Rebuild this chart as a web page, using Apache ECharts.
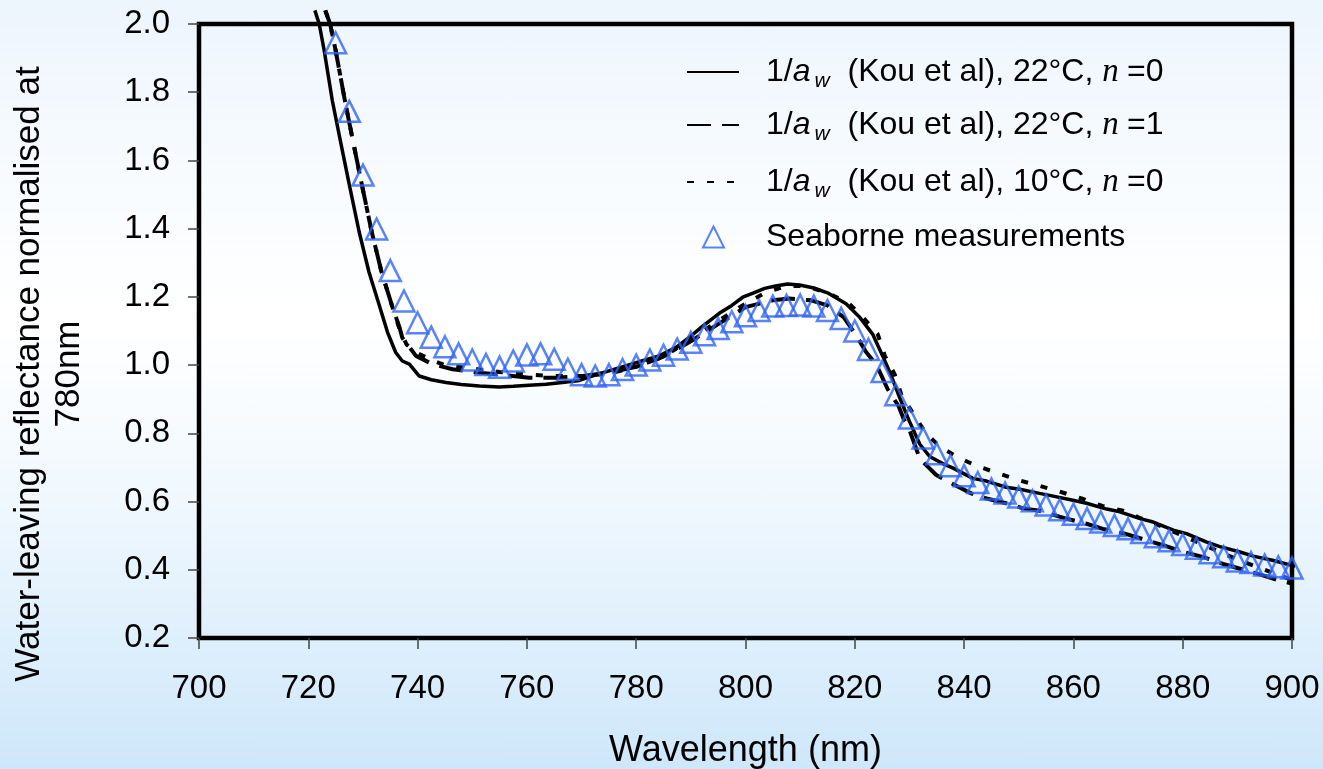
<!DOCTYPE html>
<html><head><meta charset="utf-8">
<script src="https://cdn.jsdelivr.net/npm/echarts@6/dist/echarts.min.js"></script>
<style>
html,body{margin:0;padding:0;}
#c{width:1323px;height:769px;background:linear-gradient(to bottom,#EDF5FD 0%,#F7FBFE 22%,#FFFFFF 42%,#F0F8FE 65%,#CEE7FA 100%);}
</style>
</head><body><div id="c"></div>
<script>
// ---- data ----
const xTicks = [700, 720, 740, 760, 780, 800, 820, 840, 860, 880, 900];
const yTicks = [0.2, 0.4, 0.6, 0.8, 1.0, 1.2, 1.4, 1.6, 1.8, 2.0];

const kou22n0Wl = [721.2,722.0,722.9,724.4,726.0,727.5,729.3,731.1,733.0,734.5,736.0,737.2,738.5,740.3,742.5,745.2,748.0,751.3,754.9,757.5,760.4,763.5,766.5,769.6,773.3,778.2,781.0,784.2,787.3,790.0,792.0,795.2,797.5,799.5,801.5,803.5,805.5,807.7,809.9,812.5,815.0,818.4,820.9,823.3,825.1,826.7,828.2,830.0,831.9,833.7,836.0,838.0,841.6,844.1,847.7,850.2,853.8,856.3,859.9,862.4,866.1,868.5,872.2,874.6,878.3,880.7,884.4,886.8,890.5,892.9,896.6,899.0,901.8];
const kou22n0Val = [2.04,2.0,1.923,1.775,1.647,1.529,1.391,1.273,1.175,1.096,1.037,1.012,1.003,0.968,0.957,0.949,0.943,0.939,0.936,0.938,0.941,0.944,0.949,0.955,0.975,0.998,1.012,1.027,1.052,1.085,1.112,1.152,1.175,1.199,1.212,1.225,1.232,1.238,1.235,1.226,1.212,1.180,1.140,1.090,1.027,0.968,0.905,0.835,0.768,0.732,0.712,0.698,0.668,0.660,0.642,0.636,0.624,0.616,0.604,0.595,0.578,0.570,0.550,0.540,0.516,0.506,0.481,0.468,0.452,0.440,0.427,0.417,0.407];

const kou22n1Wl = [723.1,724.0,725.0,726.7,728.3,729.8,731.6,733.4,735.3,736.7,737.2,739.7,742.7,746.4,751.3,757.4,760.4,765.3,769.6,775.0,780.0,785.0,790.0,795.0,800.0,805.0,808.0,812.0,815.0,818.0,820.3,822.0,824.0,826.0,828.0,829.0,830.0,831.9,834.9,837.6,841.3,844.1,847.7,850.8,853.8,858.7,862.4,865.4,869.4,872.5,876.4,880.1,883.8,887.4,890.5,894.8,897.8,901.8];
const kou22n1Val = [2.04,2.0,1.923,1.775,1.647,1.529,1.391,1.273,1.175,1.110,1.080,1.027,1.003,0.988,0.978,0.968,0.963,0.963,0.967,0.978,0.995,1.025,1.070,1.120,1.170,1.190,1.195,1.190,1.175,1.140,1.086,1.040,1.000,0.930,0.880,0.840,0.810,0.725,0.678,0.654,0.624,0.609,0.595,0.580,0.573,0.550,0.535,0.520,0.506,0.491,0.472,0.452,0.437,0.417,0.403,0.383,0.368,0.353];

const kou10n0Wl = [723.1,724.0,725.0,726.7,728.3,729.8,731.6,733.4,735.3,736.8,738.0,740.0,742.5,745.0,750.0,755.0,760.0,765.0,770.0,775.0,780.0,785.0,790.0,795.0,800.0,803.6,807.5,811.0,815.4,819.0,821.5,824.2,825.5,827.3,828.5,830.6,833.0,835.5,838.6,842.2,846.2,849.9,853.8,857.5,861.5,865.3,869.1,872.0,875.0,880.0,885.0,890.0,895.0,900.0,902.0];
const kou10n0Val = [2.04,2.0,1.923,1.775,1.647,1.529,1.391,1.273,1.175,1.100,1.060,1.035,1.015,1.000,0.990,0.980,0.972,0.968,0.968,0.975,0.995,1.025,1.075,1.130,1.180,1.212,1.232,1.232,1.209,1.180,1.140,1.091,1.027,0.973,0.914,0.860,0.800,0.762,0.732,0.705,0.683,0.663,0.646,0.629,0.609,0.587,0.573,0.553,0.535,0.500,0.465,0.430,0.400,0.370,0.360];

const seaWl = [725,727.5,730,732.5,735,737.5,740,742.5,745,747.5,750,752.5,755,757.5,760,762.5,765,767.5,770,772.5,775,777.5,780,782.5,785,787.5,790,792.5,795,797.5,800,802.5,805,807.5,810,812.5,815,817.5,820,822.5,825,827.5,830,832.5,835,837.5,840,842.5,845,847.5,850,852.5,855,857.5,860,862.5,865,867.5,870,872.5,875,877.5,880,882.5,885,887.5,890,892.5,895,897.5,900];
const seaVal = [1.945,1.744,1.557,1.399,1.277,1.188,1.124,1.082,1.054,1.033,1.015,1.002,0.994,1.012,1.030,1.033,1.017,0.988,0.972,0.968,0.972,0.987,1.000,1.015,1.029,1.047,1.067,1.089,1.107,1.127,1.145,1.160,1.173,1.175,1.176,1.173,1.160,1.137,1.100,1.046,0.981,0.913,0.845,0.786,0.740,0.705,0.676,0.656,0.637,0.625,0.613,0.602,0.590,0.576,0.563,0.550,0.540,0.530,0.520,0.509,0.497,0.485,0.474,0.463,0.450,0.438,0.426,0.421,0.414,0.409,0.405];

const seriesNames = ['1/aw (Kou et al), 22°C, n=0', '1/aw (Kou et al), 22°C, n=1', '1/aw (Kou et al), 10°C, n=0', 'Seaborne measurements'];
const legendLabels = {
  '1/aw (Kou et al), 22°C, n=0': '1/{i|a}{s|w} (Kou et al), 22°C, {n|n }=0',
  '1/aw (Kou et al), 22°C, n=1': '1/{i|a}{s|w} (Kou et al), 22°C, {n|n }=1',
  '1/aw (Kou et al), 10°C, n=0': '1/{i|a}{s|w} (Kou et al), 10°C, {n|n }=0',
  'Seaborne measurements': 'Seaborne measurements'
};

function pairs(xs, ys) { return xs.map((x, i) => [x, ys[i]]); }

const FONT = 'Liberation Sans, Arial, sans-serif';
const LFS = 32;
const richStyles = {
  i: { fontStyle: 'italic', fontSize: LFS, fontFamily: FONT, color: '#000', lineHeight: 40 },
  s: { fontStyle: 'italic', fontSize: 21, fontFamily: FONT, color: '#000', lineHeight: 22, verticalAlign: 'bottom', padding: [0, 9, 0, 4] },
  n: { fontStyle: 'italic', fontSize: 33, fontFamily: 'Liberation Serif, Times New Roman, serif', color: '#000', lineHeight: 40 }
};
function mkLegend(name, left, top, w, h, padLeft, isLine) {
  const lg = {
    data: [name], left: left, top: top, padding: 0,
    itemWidth: w, itemHeight: h, selectedMode: false,
    formatter: n => legendLabels[n],
    textStyle: { fontSize: LFS, fontFamily: FONT, color: '#000', lineHeight: 40, padding: [0, 0, 0, padLeft], rich: richStyles }
  };
  if (isLine) lg.itemStyle = { color: 'rgba(0,0,0,0)', borderWidth: 0, opacity: 0 };
  return lg;
}

const chart = echarts.init(document.getElementById('c'), null, { renderer: 'canvas' });
chart.setOption({
  backgroundColor: 'transparent',
  animation: false,
  grid: { left: 199, right: 31, top: 24, bottom: 131, show: true, borderColor: '#000', borderWidth: 4.5,
          backgroundColor: 'transparent', containLabel: false, outerBoundsMode: 'none' },
  legend: [
    mkLegend(seriesNames[0], 686, 52, 52, 14, 22, true),
    mkLegend(seriesNames[1], 686, 105, 52, 14, 22, true),
    mkLegend(seriesNames[2], 686, 162, 52, 14, 22, true),
    mkLegend(seriesNames[3], 702, 217, 21, 21, 37, false)
  ],
  xAxis: {
    type: 'value', min: xTicks[0], max: xTicks[xTicks.length - 1], interval: xTicks[1] - xTicks[0],
    name: 'Wavelength (nm)', nameLocation: 'middle', nameGap: 95,
    nameTextStyle: { fontSize: 36, fontFamily: FONT, color: '#000' },
    axisLine: { show: false },
    axisTick: { show: true, inside: false, length: 11, lineStyle: { color: '#444', width: 1.5 } },
    axisLabel: { fontSize: 33, fontFamily: FONT, color: '#000', margin: 34 },
    splitLine: { show: false }
  },
  yAxis: {
    type: 'value', min: yTicks[0], max: yTicks[yTicks.length - 1], interval: 0.2,
    name: 'Water-leaving reflectance normalised at\n780nm', nameLocation: 'middle', nameRotate: 90, nameGap: 110,
    nameTextStyle: { fontSize: 35, fontFamily: FONT, color: '#000', lineHeight: 40, padding: [0, 86, 0, 0] },
    axisLine: { show: false },
    axisTick: { show: true, inside: false, length: 11, lineStyle: { color: '#444', width: 1.5 } },
    axisLabel: { fontSize: 33, fontFamily: FONT, color: '#000', margin: 29, formatter: v => v.toFixed(1) },
    splitLine: { show: false }
  },
  series: [
    { name: seriesNames[0], type: 'line', data: pairs(kou22n0Wl, kou22n0Val), showSymbol: false, symbol: 'none', clip: false,
      lineStyle: { color: '#000', width: 3.5, type: 'solid' }, itemStyle: { color: 'rgba(0,0,0,0)' }, z: 2 },
    { name: seriesNames[1], type: 'line', data: pairs(kou22n1Wl, kou22n1Val), showSymbol: false, symbol: 'none', clip: false,
      lineStyle: { color: '#000', width: 4, type: [24, 11] }, itemStyle: { color: 'rgba(0,0,0,0)' }, z: 2 },
    { name: seriesNames[2], type: 'line', data: pairs(kou10n0Wl, kou10n0Val), showSymbol: false, symbol: 'none', clip: false,
      lineStyle: { color: '#000', width: 4, type: [7, 13] }, itemStyle: { color: 'rgba(0,0,0,0)' }, z: 2 },
    { name: seriesNames[3], type: 'scatter', data: pairs(seaWl, seaVal), symbol: 'triangle', symbolSize: 21,
      itemStyle: { color: 'rgba(0,0,0,0)', borderColor: '#2F64F5', borderWidth: 2.5 }, z: 3 }
  ]
});
</script></body></html>
